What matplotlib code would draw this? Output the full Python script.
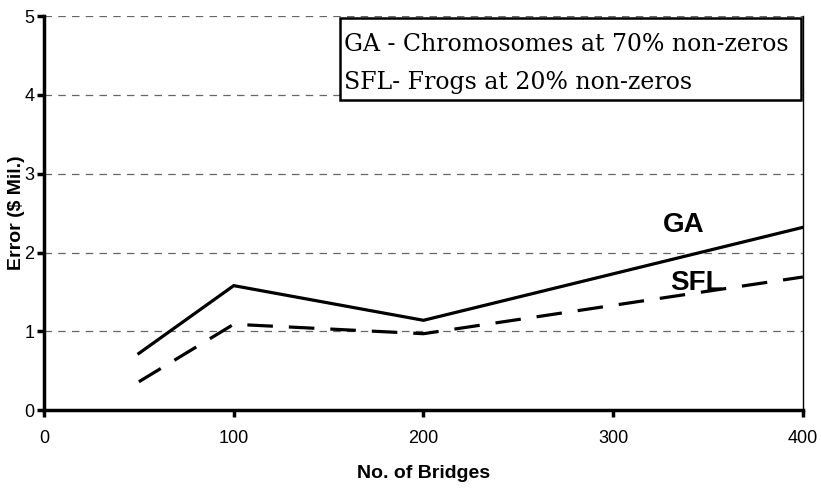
import matplotlib
matplotlib.use('Agg')
import matplotlib.pyplot as plt
from matplotlib.patches import Rectangle

bridges = [50, 100, 200, 400]
ga = [0.72, 1.58, 1.14, 2.32]
sfl = [0.36, 1.09, 0.97, 1.69]

xticks = [0, 100, 200, 300, 400]
yticks = [0, 1, 2, 3, 4, 5]

fig = plt.figure(figsize=(8.21, 4.9), dpi=100)
ax = fig.add_axes([0.0536, 0.163, 0.9244, 0.804])

ax.plot(bridges, ga, color='black', lw=2.3, solid_joinstyle='miter')
ax.plot(bridges, sfl, color='black', lw=2.3, dashes=(8, 5))

ax.set_xlim(0, 400)
ax.set_ylim(0, 5)
ax.set_xticks(xticks)
ax.set_yticks(yticks)
ax.yaxis.grid(True, color='#666666', linestyle=(0, (6, 5)), lw=0.9)
ax.set_axisbelow(True)

for s in ['left', 'bottom']:
    ax.spines[s].set_linewidth(2.5)
ax.spines['top'].set_visible(False)
ax.spines['right'].set_linewidth(1)
ax.tick_params(axis='both', direction='out', length=5, width=2.5, labelsize=13)
ax.tick_params(axis='x', pad=9)
ax.tick_params(axis='y', pad=2)

ax.set_xlabel('No. of Bridges', fontsize=14, fontweight='bold', labelpad=13,
              family='Liberation Sans')
ax.set_ylabel('Error ($ Mil.)', fontsize=14, fontweight='bold',
              family='Liberation Sans')
ax.yaxis.set_label_coords(-0.025, 0.5)

for lab in ax.get_xticklabels() + ax.get_yticklabels():
    lab.set_fontfamily('Liberation Sans')

ax.text(337, 2.35, 'GA', fontsize=20, fontweight='bold', family='Liberation Sans',
        ha='center', va='center')
ax.text(344, 1.61, 'SFL', fontsize=20, fontweight='bold', family='Liberation Sans',
        ha='center', va='center')

# note box in the upper right
ax.add_patch(Rectangle((0.39, 0.787), 0.608, 0.208, transform=ax.transAxes,
                       facecolor='white', edgecolor='black', lw=1.8, zorder=5))
ax.text(0.395, 0.912, 'GA - Chromosomes at 70% non-zeros', transform=ax.transAxes,
        fontsize=17, family='DejaVu Serif', ha='left', va='baseline', zorder=6)
ax.text(0.395, 0.815, 'SFL- Frogs at 20% non-zeros', transform=ax.transAxes,
        fontsize=17, family='DejaVu Serif', ha='left', va='baseline', zorder=6)

fig.savefig('out.png')
